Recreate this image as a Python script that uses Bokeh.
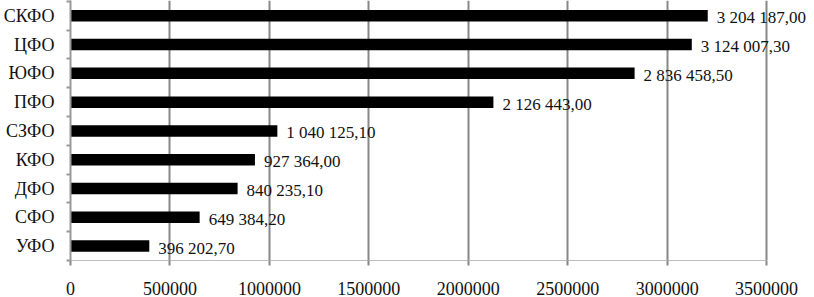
from bokeh.plotting import figure
from bokeh.models import Range1d, FixedTicker, ColumnDataSource
from bokeh.core.properties import value
from bokeh.embed import file_html
from bokeh.resources import INLINE

# Data (top to bottom as shown in the chart)
regions = ["СКФО", "ЦФО", "ЮФО", "ПФО", "СЗФО", "КФО", "ДФО", "СФО", "УФО"]
amounts = [3204187.00, 3124007.30, 2836458.50, 2126443.00, 1040125.10,
           927364.00, 840235.10, 649384.20, 396202.70]
x_ticks = [0, 500000, 1000000, 1500000, 2000000, 2500000, 3000000, 3500000]

n = len(regions)
pos = [n - i for i in range(n)]
labels = [f"{v:,.2f}".replace(",", " ").replace(".", ",") for v in amounts]

src = ColumnDataSource(dict(y=pos, x=amounts, lab=labels))

FONT = "Liberation Serif"

p = figure(width=814, height=297, output_backend="svg", toolbar_location=None,
           x_range=Range1d(0, 3741000), y_range=Range1d(0.5, 9.53),
           min_border_left=70, min_border_right=0, min_border_top=0,
           min_border_bottom=35)
p.outline_line_color = None
p.background_fill_color = "white"

p.hbar(y="y", right="x", left=0, height=0.4, source=src,
       fill_color="black", line_color=None)
p.text(x="x", y="y", text="lab", source=src, x_offset=9, y_offset=2,
       text_font=value(FONT), text_font_size="17px", text_color="#111111",
       text_baseline="middle", text_align="left")

# grid
p.ygrid.grid_line_color = None
p.xgrid.ticker = FixedTicker(ticks=x_ticks)
p.xgrid.grid_line_color = "#878787"
p.xgrid.grid_line_width = 2
p.xgrid.bounds = (0, 3500000)

# x axis
xa = p.xaxis[0]
xa.ticker = FixedTicker(ticks=x_ticks)
xa.bounds = (0, 3500000)
xa.major_label_overrides = {t: str(t) for t in x_ticks}
xa.axis_line_color = "#bdbdbd"
xa.axis_line_width = 1
xa.major_tick_out = 5
xa.major_tick_in = 0
xa.major_tick_line_color = "#878787"
xa.major_tick_line_width = 2
xa.minor_tick_line_color = None
xa.major_label_text_font = FONT
xa.major_label_text_font_size = "18px"
xa.major_label_text_color = "#111111"
xa.major_label_standoff = 16

# y axis
ya = p.yaxis[0]
ya.ticker = FixedTicker(ticks=pos, minor_ticks=[k + 0.5 for k in range(0, n + 1)])
ya.major_label_overrides = {pos[i]: regions[i] for i in range(n)}
ya.axis_line_color = "#999999"
ya.axis_line_width = 2
ya.major_tick_out = 0
ya.major_tick_in = 0
ya.minor_tick_out = 4
ya.minor_tick_in = 0
ya.minor_tick_line_color = "#999999"
ya.minor_tick_line_width = 2
ya.major_label_text_font = FONT
ya.major_label_text_font_size = "18px"
ya.major_label_text_color = "#111111"
ya.major_label_standoff = 12

open("out.html", "w").write(file_html(p, INLINE))
